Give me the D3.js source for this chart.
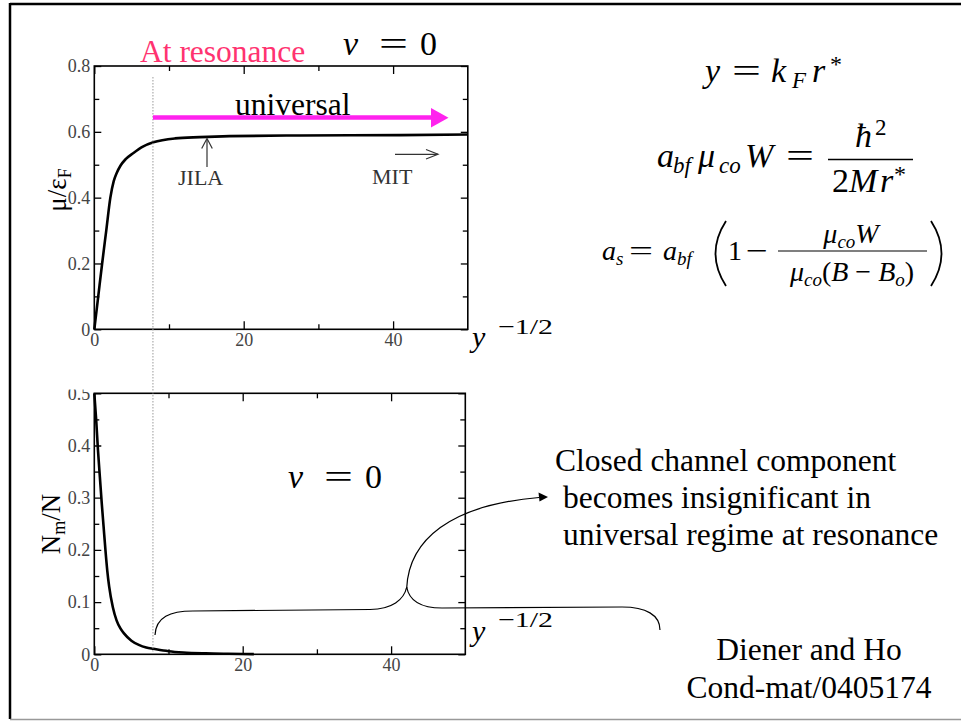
<!DOCTYPE html>
<html>
<head>
<meta charset="utf-8">
<script src="https://cdn.jsdelivr.net/npm/d3@7"></script>
<style>
  body { margin: 0; background: #fff; }
  svg { display: block; }
</style>
</head>
<body>
<div id="chart"></div>
<script>
// upper panel: mu / eps_F against y^-1/2
const muX = [0, 0.5, 1.05, 1.6, 2.15, 2.6, 3.0, 3.5, 4.2, 5.2, 6.5, 7.9, 10.8, 14.1, 18.1, 27.5, 41, 50]
const muY = [0, 0.095, 0.2, 0.3, 0.4, 0.45, 0.475, 0.497, 0.517, 0.535, 0.555, 0.568, 0.58, 0.584, 0.587, 0.589, 0.59, 0.592]

// lower panel: N_m / N against y^-1/2
const nmX = [0, 0.25, 0.5, 0.75, 1.0, 1.25, 1.5, 1.75, 2.0, 2.5, 3.0, 3.5, 4, 5, 6, 7, 8, 10, 12, 15, 18, 21.5]
const nmY = [0.5, 0.45, 0.39, 0.34, 0.29, 0.245, 0.2, 0.16, 0.13, 0.09, 0.065, 0.05, 0.04, 0.026, 0.018, 0.013, 0.0105, 0.006, 0.0035, 0.0018, 0.001, 0.0004]

const xMajor = [0, 20, 40]
const xMinor = [10, 30]
const xTickLabels = ["0", "20", "40"]
const muMajor = [0, 0.2, 0.4, 0.6, 0.8]
const muMinor = [0.1, 0.3, 0.5, 0.7]
const muTickLabels = ["0", "0.2", "0.4", "0.6", "0.8"]
const nmMajor = [0, 0.1, 0.2, 0.3, 0.4, 0.5]
const nmMinor = [0.05, 0.15, 0.25, 0.35, 0.45]
const nmTickLabels = ["0", "0.1", "0.2", "0.3", "0.4", "0.5"]
const resonanceX = 7.85

const serif = '"Liberation Serif", "Times New Roman", serif'

const svg = d3.select("#chart").append("svg")
  .attr("width", 961).attr("height", 721)

// slide frame
svg.append("line").attr("x1", 10).attr("y1", 4).attr("x2", 961).attr("y2", 4)
  .attr("stroke", "#000").attr("stroke-width", 2.5)
svg.append("line").attr("x1", 10).attr("y1", 3).attr("x2", 10).attr("y2", 719)
  .attr("stroke", "#000").attr("stroke-width", 2.5)
svg.append("line").attr("x1", 10).attr("y1", 719.5).attr("x2", 961).attr("y2", 719.5)
  .attr("stroke", "#999").attr("stroke-width", 1.5)

const topPanel = {left: 94.3, top: 66, width: 373.5, height: 263.3}
const botPanel = {left: 94.3, top: 393.3, width: 371, height: 261}

function styleAxis(a) {
  a.select(".domain").remove()
  a.selectAll("line").attr("stroke", "#000").attr("stroke-width", 1.3)
  a.selectAll("text").attr("font-family", serif).attr("font-size", 18).attr("fill", "#444")
}

function drawPanel(p, yDomain, yMajor, yMinor, yLabels, xs, ys) {
  const g = svg.append("g").attr("transform", `translate(${p.left},${p.top})`)
  const x = d3.scaleLinear().domain([0, 50]).range([0, p.width])
  const y = d3.scaleLinear().domain(yDomain).range([p.height, 0])

  // bottom + top
  g.append("g").attr("transform", `translate(0,${p.height})`)
    .call(d3.axisBottom(x).tickValues(xMajor).tickFormat((d, i) => xTickLabels[i])
      .tickSizeInner(-8).tickSizeOuter(0).tickPadding(4))
    .call(styleAxis)
  g.append("g").attr("transform", `translate(0,${p.height})`)
    .call(d3.axisBottom(x).tickValues(xMinor).tickFormat("").tickSizeInner(-5).tickSizeOuter(0))
    .call(styleAxis)
  g.append("g")
    .call(d3.axisTop(x).tickValues(xMajor).tickFormat("").tickSizeInner(-8).tickSizeOuter(0))
    .call(styleAxis)
  g.append("g")
    .call(d3.axisTop(x).tickValues(xMinor).tickFormat("").tickSizeInner(-5).tickSizeOuter(0))
    .call(styleAxis)

  // left + right
  const left = g.append("g")
    .call(d3.axisLeft(y).tickValues(yMajor).tickFormat((d, i) => yLabels[i])
      .tickSizeInner(-7).tickSizeOuter(0).tickPadding(4))
    .call(styleAxis)
  g.append("g")
    .call(d3.axisLeft(y).tickValues(yMinor).tickFormat("").tickSizeInner(-5).tickSizeOuter(0))
    .call(styleAxis)
  g.append("g").attr("transform", `translate(${p.width},0)`)
    .call(d3.axisRight(y).tickValues(yMajor).tickFormat("").tickSizeInner(-7).tickSizeOuter(0))
    .call(styleAxis)
  g.append("g").attr("transform", `translate(${p.width},0)`)
    .call(d3.axisRight(y).tickValues(yMinor).tickFormat("").tickSizeInner(-5).tickSizeOuter(0))
    .call(styleAxis)

  g.append("rect").attr("width", p.width).attr("height", p.height)
    .attr("fill", "none").attr("stroke", "#000").attr("stroke-width", 1.6)

  const line = d3.line().x(d => x(d[0])).y(d => y(d[1])).curve(d3.curveMonotoneX)
  g.append("path").datum(d3.zip(xs, ys))
    .attr("d", line)
    .attr("fill", "none").attr("stroke", "#000").attr("stroke-width", 2.6)

  return {g, x, y, left}
}

const upper = drawPanel(topPanel, [0, 0.8], muMajor, muMinor, muTickLabels, muX, muY)
const lower = drawPanel(botPanel, [0, 0.5], nmMajor, nmMinor, nmTickLabels, nmX, nmY)

// the 0.5 label is cut off at the top in the original
svg.append("defs").append("clipPath").attr("id", "cutTop")
  .append("rect").attr("x", -80).attr("y", -3.8).attr("width", 90).attr("height", botPanel.height + 30)
lower.left.attr("clip-path", "url(#cutTop)")

// resonance marker
const rx = topPanel.left + upper.x(resonanceX)
svg.append("line").attr("x1", rx).attr("x2", rx).attr("y1", 77).attr("y2", 652)
  .attr("stroke", "#999").attr("stroke-width", 1).attr("stroke-dasharray", "1.5,1.5")

function txt(x, y, s, o = {}) {
  return svg.append("text").attr("x", x).attr("y", y).text(s)
    .attr("font-family", serif)
    .attr("font-size", o.size || 34)
    .attr("font-style", o.it ? "italic" : null)
    .attr("text-anchor", o.anchor || "start")
    .attr("fill", o.fill || "#000")
}

// "=" and "-" stretched to the wide math glyphs
function op(x, y, s, len, size) {
  return txt(x, y, s, {size: size || 34})
    .attr("textLength", len).attr("lengthAdjust", "spacingAndGlyphs")
}

// axis labels
const muLab = svg.append("text").attr("transform", "translate(66,190) rotate(-90)")
  .attr("text-anchor", "middle").attr("font-family", serif).attr("font-size", 27)
muLab.append("tspan").text("μ/ε")
muLab.append("tspan").text("F").attr("font-size", 18).attr("dy", 5)

const nmLab = svg.append("text").attr("transform", "translate(60,524) rotate(-90)")
  .attr("text-anchor", "middle").attr("font-family", serif).attr("font-size", 27)
nmLab.append("tspan").text("N")
nmLab.append("tspan").text("m").attr("font-size", 18).attr("dy", 5)
nmLab.append("tspan").text("/N").attr("dy", -5)

txt(472, 347, "y", {it: true, size: 30})
op(498, 334, "−1/2", 55, 22)
txt(472, 641, "y", {it: true, size: 30})
op(498, 627, "−1/2", 55, 22)

// upper panel notes
txt(140, 62, "At resonance", {size: 31.5, fill: "#ff3370"})
txt(343, 55, "ν", {it: true, size: 34})
op(379, 55, "=", 29)
txt(420, 55, "0", {size: 34})
txt(235, 115, "universal", {size: 31.5})

svg.append("line").attr("x1", rx).attr("x2", 432).attr("y1", 117.5).attr("y2", 117.5)
  .attr("stroke", "#ff22ee").attr("stroke-width", 4.5)
svg.append("polygon").attr("points", "431,108 448.5,117.7 431,127.5").attr("fill", "#ff22ee")

txt(178, 185, "JILA", {size: 22, fill: "#333"})
svg.append("line").attr("x1", 207).attr("y1", 167).attr("x2", 207).attr("y2", 139)
  .attr("stroke", "#333").attr("stroke-width", 1.2)
svg.append("polyline").attr("points", "201.7,148.5 207,138.5 212.3,148.5")
  .attr("fill", "none").attr("stroke", "#333").attr("stroke-width", 1.2)

txt(372, 184, "MIT", {size: 22, fill: "#333"})
svg.append("line").attr("x1", 395).attr("y1", 154.3).attr("x2", 438).attr("y2", 154.3)
  .attr("stroke", "#333").attr("stroke-width", 1.2)
svg.append("polyline").attr("points", "426,149.5 438,154.3 426,159")
  .attr("fill", "none").attr("stroke", "#333").attr("stroke-width", 1.2)

// lower panel notes
txt(288, 488, "ν", {it: true, size: 34})
op(324, 488, "=", 29)
txt(365, 488, "0", {size: 34})

// brace and arrow
svg.append("path")
  .attr("d", "M155,635 C156,617 170,611 193,611 L370,609.5 C392,609 404,600 406.7,587 C409,600 420,608 442,608 L622,607 C646,607 660,615 660,630")
  .attr("fill", "none").attr("stroke", "#000").attr("stroke-width", 1.2)
svg.append("path")
  .attr("d", "M406.7,588 C409,540 450,505 539,497.5")
  .attr("fill", "none").attr("stroke", "#000").attr("stroke-width", 1.2)
svg.append("polygon").attr("points", "548,497 538.5,492.5 539.5,501.5").attr("fill", "#000")

txt(555, 471, "Closed channel component", {size: 31.5})
txt(563, 508, "becomes insignificant in", {size: 31.5})
txt(563, 545, "universal regime at resonance", {size: 31.5})

txt(809, 660, "Diener and Ho", {size: 31.5, anchor: "middle"})
txt(809, 698, "Cond-mat/0405174", {size: 31.5, anchor: "middle"})

// equations
// y = k_F r*
txt(705, 82, "y", {it: true})
op(732, 82, "=", 29)
txt(771, 82, "k", {it: true})
txt(792, 88, "F", {it: true, size: 23})
txt(812, 82, "r", {it: true})
txt(830, 72, "*", {size: 24})

// a_bf mu_co W = hbar^2 / 2 M r*
txt(657, 167, "a", {it: true})
txt(673, 173, "bf", {it: true, size: 23})
txt(698, 167, "μ", {it: true})
txt(719, 173, "co", {it: true, size: 23})
txt(745, 167, "W", {it: true})
op(786, 167, "=", 28)
txt(855, 147, "ħ", {it: true})
txt(875, 135, "2", {size: 23})
svg.append("line").attr("x1", 828).attr("x2", 913).attr("y1", 159.5).attr("y2", 159.5)
  .attr("stroke", "#000").attr("stroke-width", 1.3)
txt(832, 192, "2")
txt(849, 192, "M", {it: true})
txt(880, 192, "r", {it: true})
txt(894, 182, "*", {size: 24})

// a_s = a_bf (1 - mu_co W / mu_co (B - B_o))
txt(602, 260, "a", {it: true, size: 28})
txt(616, 265, "s", {it: true, size: 19})
op(629, 260, "=", 24, 28)
txt(663, 260, "a", {it: true, size: 28})
txt(677, 265, "bf", {it: true, size: 19})
svg.append("path").attr("d", "M726,221 Q705,253.5 726,286")
  .attr("fill", "none").attr("stroke", "#000").attr("stroke-width", 1.8)
svg.append("path").attr("d", "M931,221 Q952,253.5 931,286")
  .attr("fill", "none").attr("stroke", "#000").attr("stroke-width", 1.8)
txt(728, 260, "1", {size: 28})
op(746, 260, "−", 22, 28)

const num = svg.append("text").attr("x", 851).attr("y", 243).attr("text-anchor", "middle")
  .attr("font-family", serif).attr("font-size", 28).attr("font-style", "italic")
num.append("tspan").text("μ")
num.append("tspan").text("co").attr("font-size", 19).attr("dy", 5)
num.append("tspan").text("W").attr("dy", -5)
svg.append("line").attr("x1", 778).attr("x2", 927).attr("y1", 251).attr("y2", 251)
  .attr("stroke", "#000").attr("stroke-width", 1.2)
const den = svg.append("text").attr("x", 852).attr("y", 281).attr("text-anchor", "middle")
  .attr("font-family", serif).attr("font-size", 28).attr("font-style", "italic")
den.append("tspan").text("μ")
den.append("tspan").text("co").attr("font-size", 19).attr("dy", 5)
den.append("tspan").text("(").attr("dy", -5).attr("font-style", "normal")
den.append("tspan").text("B")
den.append("tspan").text(" − ").attr("font-style", "normal")
den.append("tspan").text("B")
den.append("tspan").text("o").attr("font-size", 19).attr("dy", 5)
den.append("tspan").text(")").attr("dy", -5).attr("font-style", "normal")
</script>
</body>
</html>
